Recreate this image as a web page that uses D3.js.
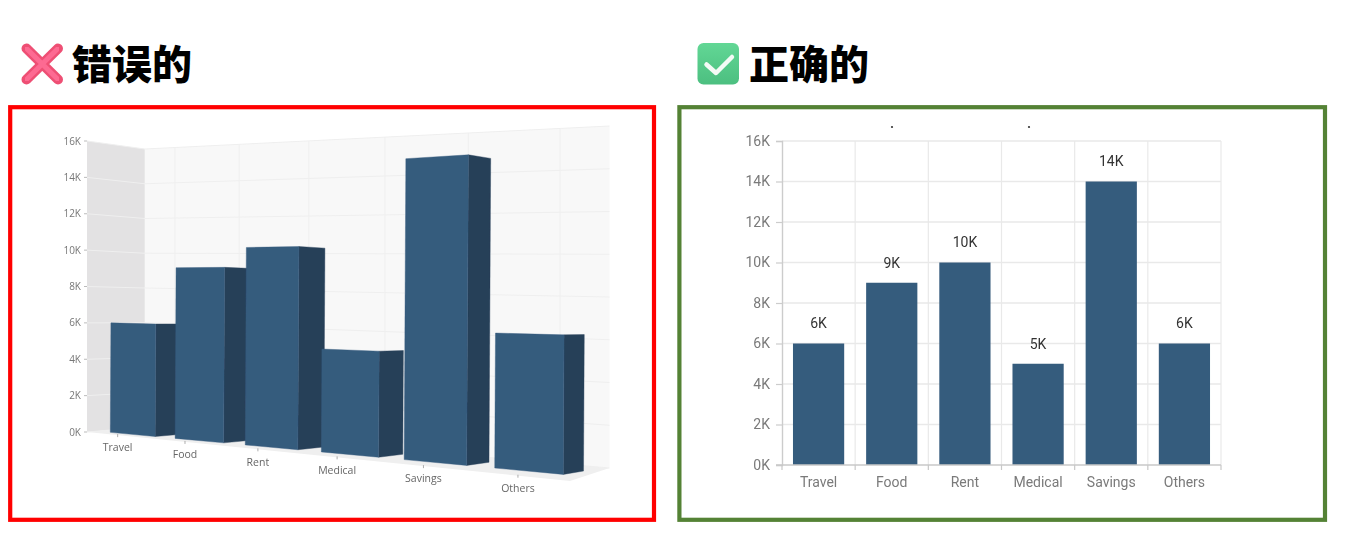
<!DOCTYPE html>
<html><head><meta charset="utf-8">
<script src="https://cdn.jsdelivr.net/npm/d3@7"></script>
<style>html,body{margin:0;padding:0;background:#fff}svg{display:block}</style></head>
<body><svg id="c" width="1349" height="555"></svg>
<script>
const categories=["Travel","Food","Rent","Medical","Savings","Others"];
const values=[6,9,10,5,14,6];
const tickValues=[0,2,4,6,8,10,12,14,16];
const tickLabel=v=>v+"K";
const wrongTitle="错误的", rightTitle="正确的";
const svg=d3.select("#c");
const line=d3.line(), poly=p=>line(p)+"Z";
const BAR="#365b7d", SIDE="#263f58", CN="'Noto Sans CJK SC'";

const defs=svg.append("defs");
defs.append("filter").attr("id","soft").attr("x","-2%").attr("y","-2%").attr("width","104%").attr("height","104%").append("feGaussianBlur").attr("stdDeviation",0.4);
defs.append("filter").attr("id","softer").attr("x","-2%").attr("y","-2%").attr("width","104%").attr("height","104%").append("feGaussianBlur").attr("stdDeviation",0.25);

/* frames + headings */
svg.append("rect").attr("x",10.2).attr("y",107.2).attr("width",643.8).attr("height",412.6).attr("fill","none").attr("stroke","#ff0000").attr("stroke-width",4.2);
svg.append("rect").attr("x",679.4).attr("y",107.2).attr("width",645.6).attr("height",412.6).attr("fill","none").attr("stroke","#548235").attr("stroke-width",4.2);
const head=(t,x)=>svg.append("text").attr("x",x).attr("y",79).attr("font-family",CN).attr("font-weight",900).attr("font-size",40).attr("fill","#000").text(t);
head(wrongTitle,72); head(rightTitle,749);
const g2=defs.append("linearGradient").attr("id","gc").attr("x1",0).attr("y1",0).attr("x2",0).attr("y2",1);
g2.append("stop").attr("offset",0).attr("stop-color","#62d795");g2.append("stop").attr("offset",1).attr("stop-color","#4cbf80");
const cross="M26.5 48.5L58 79.5M58 48.5L26.5 79.5";
svg.append("path").attr("d",cross).attr("fill","none").attr("stroke","#ee4f74").attr("stroke-width",10).attr("stroke-linecap","round");
svg.append("path").attr("d",cross).attr("fill","none").attr("stroke","#fd6a92").attr("stroke-width",5).attr("stroke-linecap","round").attr("filter","url(#soft)");
svg.append("rect").attr("x",697.5).attr("y",43).attr("width",41.5).attr("height",41.5).attr("rx",6).attr("fill","url(#gc)");
svg.append("path").attr("d","M706.5 64.5L716 73L732 57").attr("fill","none").attr("stroke","#f4fbf6").attr("stroke-width",4.5).attr("stroke-linecap","round").attr("stroke-linejoin","round");

/* ---------- left: perspective chart ---------- */
const L=svg.append("g").attr("filter","url(#soft)");
const axisY=d3.scaleLinear().domain([0,16]).range([432,141]);
const wallLY=d3.scaleLinear().domain([0,16]).range([427,149]);
const wallRY=d3.scaleLinear().domain([0,16]).range([468,126]);
const floorY=d3.scaleLinear().domain([87,570]).range([432,481]);
const wallX=u=>(175+54.5*u)/(1-0.0402*u);
const xLeftW=wallX(-0.5), xRightW=wallX(5.5);
const wallPt=(u,v)=>{const x=wallX(u),t=(x-xLeftW)/(xRightW-xLeftW);return [x,wallLY(v)+(wallRY(v)-wallLY(v))*t];};
L.append("path").attr("d",poly([[87,axisY(16)],[xLeftW,wallLY(16)],[xLeftW,wallLY(0)],[87,axisY(0)]])).attr("fill","#e3e2e3");
L.append("path").attr("d",poly([wallPt(-.5,0),wallPt(-.5,16),wallPt(5.5,16),wallPt(5.5,0)])).attr("fill","#f8f8f8");
L.append("path").attr("d",poly([[87,axisY(0)],wallPt(-.5,0),wallPt(5.5,0),[570,481]])).attr("fill","#efefef");
tickValues.forEach(v=>{
  L.append("path").attr("d",line([[87,axisY(v)],wallPt(-.5,v),wallPt(5.5,v)])).attr("fill","none").attr("stroke","#efefef").attr("stroke-width",1);
  L.append("line").attr("x1",84).attr("x2",87).attr("y1",axisY(v)).attr("y2",axisY(v)).attr("stroke","#aaa").attr("stroke-width",.8);
  L.append("text").attr("x",81).attr("y",axisY(v)).attr("dy","0.35em").attr("text-anchor","end").attr("font-family","'Open Sans'").attr("font-size",10).attr("fill","#777").text(tickLabel(v));
});
d3.range(0,6).forEach(u=>L.append("path").attr("d",line([wallPt(u,0),wallPt(u,16)])).attr("fill","none").attr("stroke","#efefef").attr("stroke-width",1));
const VP=[1500,320], DEPTH=0.0216;
function project(u,v,d){
  const w=1-0.0375*u;
  const x=(101+57.9*u+0.1*v)/w, y=(431.5-10.46*u-18.15*v)/w;
  return [x+(VP[0]-x)*DEPTH*d, y+(VP[1]-y)*DEPTH*d];
}
const halfBar=0.35;
categories.forEach((c,i)=>{
  const a=i+.5-halfBar,b=i+.5+halfBar,v=values[i];
  L.append("path").attr("d",poly([project(b,0,0),project(b,v,0),project(b,v,1),project(b,0,1)])).attr("fill",SIDE).attr("stroke",SIDE).attr("stroke-width",.4);
  L.append("path").attr("d",poly([project(a,0,0),project(a,v,0),project(b,v,0),project(b,0,0)])).attr("fill",BAR).attr("stroke",BAR).attr("stroke-width",.4);
  const tx=project(i+.5,0,-0.5)[0], ty=floorY(tx);
  L.append("line").attr("x1",tx).attr("x2",tx).attr("y1",ty-1).attr("y2",ty+2).attr("stroke","#999").attr("stroke-width",.8);
  L.append("text").attr("x",tx).attr("y",ty+12.5).attr("dy","0.35em").attr("text-anchor","middle").attr("font-family","'Open Sans'").attr("font-size",10.5).attr("fill","#666").text(c);
});

/* ---------- right: flat chart ---------- */
const x=d3.scaleBand().domain(categories).range([782,1221]).paddingInner(.3).paddingOuter(.15);
const y=d3.scaleLinear().domain([0,16]).range([465,141]);
const R=svg.append("g").attr("filter","url(#softer)");
const edges=d3.range(0,7).map(i=>782+i*x.step());
edges.slice(1).forEach(e=>R.append("line").attr("x1",e).attr("x2",e).attr("y1",y(16)).attr("y2",y(0)).attr("stroke","#e9e9e9").attr("stroke-width",1.2));
tickValues.slice(1).forEach(v=>R.append("line").attr("x1",782).attr("x2",1221).attr("y1",y(v)).attr("y2",y(v)).attr("stroke","#e9e9e9").attr("stroke-width",1.3));
const ay=R.append("g").attr("transform","translate(782,0)").call(d3.axisLeft(y).tickValues(tickValues).tickFormat(tickLabel).tickSize(6).tickPadding(6));
ay.select(".domain").attr("stroke","#cccccc").attr("stroke-width",1.4);
ay.selectAll(".tick line").attr("stroke","#cccccc").attr("stroke-width",1.2);
ay.selectAll("text").attr("font-family","Roboto").attr("font-size",14).attr("fill","#7a7a7a");
R.selectAll("rect.b").data(categories).join("rect").attr("class","b").attr("x",c=>x(c)).attr("width",x.bandwidth()).attr("y",(c,i)=>y(values[i])).attr("height",(c,i)=>y(0)-y(values[i])).attr("fill",BAR);
R.append("line").attr("x1",776).attr("x2",1221).attr("y1",y(0)).attr("y2",y(0)).attr("stroke","#c8c8c8").attr("stroke-width",1.4);
edges.forEach(e=>R.append("line").attr("x1",e).attr("x2",e).attr("y1",y(0)).attr("y2",y(0)+5).attr("stroke","#c8c8c8").attr("stroke-width",1.2));
categories.forEach((c,i)=>{
  const cx=x(c)+x.bandwidth()/2;
  R.append("text").attr("x",cx).attr("y",482).attr("dy","0.35em").attr("text-anchor","middle").attr("font-family","Roboto").attr("font-size",14).attr("fill","#7a7a7a").text(c);
  R.append("text").attr("x",cx).attr("y",y(values[i])-20).attr("dy","0.35em").attr("text-anchor","middle").attr("font-family","Roboto").attr("font-size",14).attr("fill","#333").text(tickLabel(values[i]));
});
[892,1029].forEach(px=>R.append("circle").attr("cx",px).attr("cy",127).attr("r",1.1).attr("fill","#333"));
</script></body></html>
